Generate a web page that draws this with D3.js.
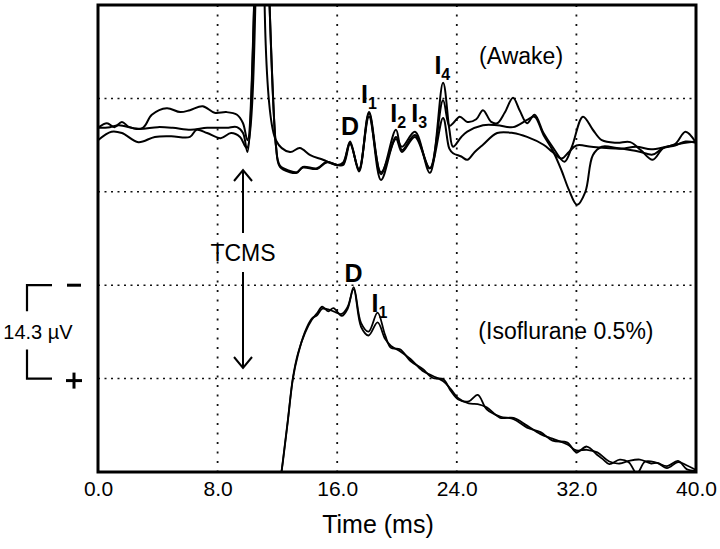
<!DOCTYPE html>
<html><head><meta charset="utf-8">
<script src="https://cdn.jsdelivr.net/npm/d3@7"></script>
<style>
body{margin:0;background:#fff}
text{font-family:"Liberation Sans",Arial,Helvetica,sans-serif;fill:#000}
</style>
</head><body>
<svg id="c" width="720" height="549"></svg>
<script>
// ---- data (time in ms, potential in µV on the display scale; 1 division = 14.3 µV) ----
const xTicks = [0, 8, 16, 24, 32, 40];
const xTickLabels = ["0.0", "8.0", "16.0", "24.0", "32.0", "40.0"];
const yGrid = [14.3, 28.6, 42.9, 57.2];

const awake1 = [[0,52.7],[0.6,53.4],[1.1,52.8],[1.6,53.6],[2.1,52.8],[3.0,52.7],[3.6,54.7],[4.6,55.7],[5.5,55.1],[6.15,55.4],[7.0,56.0],[7.8,55.0],[8.6,55.1],[9.3,54.7],[9.7,53.4],[10.0,50.8],[10.9,100],[11.9,50.8],[12.84,49.0],[13.5,49.6],[14.2,48.5],[15.05,47.8],[16.0,47.0],
  [16.4,47.4],[16.86,50.4],[17.46,46.2],[18.13,55.1],[18.93,45.6],[19.93,52.4],[20.33,49.3],[21.2,51.6],[22.2,46.5],[23.08,56.9],[23.5,53.0],
  [23.75,53.4],[24.2,54.4],[24.7,53.6],[25.3,54.0],[25.75,55.4],[26.3,53.6],[26.7,53.4],[27.2,55.0],[27.76,57.3],[28.2,55.4],[28.7,53.4],[29.2,54.7],[29.8,51.9],[30.4,49.8],[31.2,47.5],[31.7,49.8],[32.44,54.4],[33.1,52.4],[33.7,50.8],[34.7,50.4],[35.6,50.5],[36.3,49.3],[37.1,47.8],[37.8,49.6],[38.6,50.2],[39.3,52.1],[40,50.4]];
const awake2 = [[0,52.7],[0.8,52.8],[1.4,53.1],[2.7,52.5],[4.0,52.8],[5.0,52.7],[6.2,52.4],[7.3,52.7],[8.6,52.7],[9.3,52.8],[9.7,51.9],[10.0,49.0],[10.9,100],[11.9,50.0],[12.17,46.7],[12.84,45.9],[13.3,45.8],[13.7,46.7],[14.65,46.5],[15.3,47.5],[16.0,47.0],
  [16.4,47.2],[16.86,50.6],[17.46,46.0],[18.13,54.9],[18.93,44.7],[19.93,51.3],[20.33,49.8],[21.2,52.1],[22.2,45.8],[23.08,59.6],[23.5,52.5],
  [23.75,49.8],[24.3,51.3],[24.7,52.1],[25.75,53.1],[26.7,53.1],[27.76,52.8],[28.7,53.9],[29.2,54.4],[29.8,51.6],[30.4,49.3],[31.0,46.2],[31.5,43.2],[32.04,40.9],[32.6,42.9],[33.1,48.5],[33.7,49.8],[34.7,49.6],[35.6,49.3],[36.3,49.0],[37.1,48.6],[37.8,49.6],[38.6,50.0],[39.3,50.6],[40,50.4]];
const awake3 = [[0,50.8],[0.9,52.1],[1.6,51.9],[2.7,50.5],[3.8,51.3],[4.9,51.4],[6.15,51.3],[6.6,52.4],[7.3,51.9],[8.2,51.1],[8.9,51.9],[9.5,51.3],[9.95,49.6],[10.9,100],[11.9,50.0],[12.17,46.9],[12.84,46.1],[13.3,45.9],[13.7,46.6],[14.65,46.4],[15.3,47.4],[16.0,47.0],
  [16.4,47.0],[16.86,50.2],[17.46,46.4],[18.13,54.4],[18.93,45.9],[19.93,51.0],[20.33,49.0],[21.2,51.3],[22.2,46.5],[23.08,54.2],[23.5,49.5],
  [23.75,48.8],[24.3,48.3],[24.7,47.8],[25.2,49.0],[25.75,50.1],[26.7,51.9],[27.76,51.9],[28.7,51.3],[29.8,50.1],[30.4,49.0],[31.0,48.0],[31.5,49.0],[32.0,50.0],[33.0,49.8],[34.0,49.6],[35.0,49.5],[36.0,49.8],[37.0,49.4],[38.0,49.8],[39.0,50.3],[40,50.6]];

const iso1 = [[12.1,-3],[12.37,1.8],[12.7,8.0],[13.04,14.5],[13.38,18.2],[13.85,21.3],[14.3,23.3],[14.65,24.3],[15.0,25.3],[15.4,24.6],[15.75,25.1],[16.3,23.9],[16.7,25.0],[17.1,28.3],[17.6,22.8],[18.1,21.5],[18.7,24.4],[19.2,21.0],[19.6,19.0],[20.2,18.8],[20.9,17.0],[21.7,15.8],[22.4,14.4],[23.1,14.2],[23.6,12.4],[24.1,11.1],[24.8,10.8],[25.4,11.8],[26.0,9.6],[26.9,8.5],[27.8,8.1],[28.7,6.8],[29.6,6.1],[30.4,4.8],[31.4,4.5],[32.0,3.0],[32.7,3.9],[33.4,2.6],[33.8,1.9],[34.2,1.2],[34.9,1.9],[35.5,1.5],[36.05,-0.2],[36.6,1.6],[37.4,1.4],[38.06,0.9],[38.8,1.7],[39.4,0.4],[40,0.2]];
const iso2 = [[12.1,-3],[12.37,1.6],[12.7,7.8],[13.04,14.3],[13.38,18.0],[13.85,21.5],[14.3,23.5],[14.65,24.0],[15.0,25.0],[15.4,24.9],[15.75,24.6],[16.3,24.2],[16.7,25.3],[17.1,28.0],[17.6,22.2],[18.1,20.9],[18.7,22.9],[19.2,20.4],[19.6,19.3],[20.2,18.5],[20.9,17.3],[21.7,15.5],[22.4,14.7],[23.1,13.9],[23.6,12.7],[24.1,11.3],[24.8,10.5],[25.4,10.4],[26.0,9.9],[26.9,8.3],[27.8,8.3],[28.7,7.1],[29.6,5.8],[30.4,5.1],[31.4,4.2],[32.0,3.3],[32.7,3.4],[33.4,3.0],[34.2,1.6],[34.9,1.3],[35.5,1.7],[36.25,1.9],[37.0,1.3],[37.4,1.4],[38.06,0.6],[38.8,1.5],[39.4,1.0],[40,0.3]];

const awakeTraces = [awake1, awake2, awake3];
const isoTraces = [iso1, iso2];

// ---- drawing ----
const svg = d3.select("#c");
const x = d3.scaleLinear().domain([0, 40]).range([98, 696]);
const y = d3.scaleLinear().domain([0, 71.5]).range([472, 5]);

svg.append("defs").append("clipPath").attr("id", "clip")
  .append("rect").attr("x", x(0)).attr("y", y(71.5)).attr("width", x(40) - x(0)).attr("height", y(0) - y(71.5));

// grid
svg.append("g").selectAll("line").data(yGrid).join("line")
  .attr("x1", x(0)).attr("x2", x(40)).attr("y1", d => y(d)).attr("y2", d => y(d))
  .attr("stroke", "#111").attr("stroke-width", 1.5).attr("stroke-dasharray", "2,4.5");
svg.append("g").selectAll("line").data(xTicks.slice(1, -1)).join("line")
  .attr("x1", d => x(d)).attr("x2", d => x(d)).attr("y1", y(71.5)).attr("y2", y(0))
  .attr("stroke", "#111").attr("stroke-width", 1.8).attr("stroke-dasharray", "2,7.5");

// traces
const line = d3.line().x(d => x(d[0])).y(d => y(d[1])).curve(d3.curveCatmullRom.alpha(0.5));
const tg = svg.append("g").attr("clip-path", "url(#clip)");
tg.selectAll("path.aw").data(awakeTraces).join("path").attr("class", "aw")
  .attr("d", line).attr("fill", "none").attr("stroke", "#000").attr("stroke-width", 2);
tg.selectAll("path.iso").data(isoTraces).join("path").attr("class", "iso")
  .attr("d", line).attr("fill", "none").attr("stroke", "#000").attr("stroke-width", 1.8);

// frame
svg.append("rect").attr("x", x(0)).attr("y", y(71.5)).attr("width", x(40) - x(0)).attr("height", y(0) - y(71.5))
  .attr("fill", "none").attr("stroke", "#000").attr("stroke-width", 3);

// x axis labels
const ax = svg.append("g").attr("transform", `translate(0,${y(0)})`)
  .call(d3.axisBottom(x).tickValues(xTicks).tickFormat((d, i) => xTickLabels[i]).tickSize(0).tickPadding(9));
ax.select(".domain").remove();
ax.selectAll("text").attr("font-size", 21).attr("font-family", '"Liberation Sans",Arial,sans-serif').attr("fill", "#000");

svg.append("text").attr("x", 378).attr("y", 533).attr("text-anchor", "middle")
  .attr("font-size", 25).text("Time (ms)");

// condition labels
svg.append("text").attr("x", x(28.3)).attr("y", 64).attr("text-anchor", "middle").attr("font-size", 23).text("(Awake)");
svg.append("text").attr("x", x(31.3)).attr("y", 339).attr("text-anchor", "middle").attr("font-size", 23).text("(Isoflurane 0.5%)");

// wave labels
function waveLabel(cx, by, main, sub) {
  const t = svg.append("text").attr("x", cx).attr("y", by).attr("font-size", 25).attr("font-weight", "bold").attr("text-anchor", sub ? "start" : "middle");
  t.append("tspan").text(main);
  if (sub) t.append("tspan").attr("font-size", 16).attr("dy", 6).text(sub);
}
waveLabel(x(16.85), 135, "D");
waveLabel(x(17.6), 103, "I", "1");
waveLabel(x(19.55), 122, "I", "2");
waveLabel(x(20.95), 122, "I", "3");
waveLabel(x(22.5), 74, "I", "4");
waveLabel(x(17.1), 282, "D");
waveLabel(x(18.3), 312, "I", "1");

// TCMS arrow
const ta = x(9.7);
const ag = svg.append("g").attr("stroke", "#000").attr("stroke-width", 2).attr("fill", "none");
ag.append("line").attr("x1", ta).attr("x2", ta).attr("y1", 171).attr("y2", 233);
ag.append("path").attr("d", `M${ta - 9},${181} L${ta},${170} L${ta + 9},${181}`);
ag.append("line").attr("x1", ta).attr("x2", ta).attr("y1", 272).attr("y2", 367);
ag.append("path").attr("d", `M${ta - 9},${357} L${ta},${368} L${ta + 9},${357}`);
svg.append("text").attr("x", ta).attr("y", 261).attr("text-anchor", "middle").attr("font-size", 23).text("TCMS");

// scale bar 14.3 µV
const sTop = y(28.6), sBot = y(14.3);
const sb = svg.append("g").attr("stroke", "#000").attr("stroke-width", 2.2).attr("fill", "none");
sb.append("path").attr("d", `M52,${sTop} L27,${sTop} L27,${sTop + 26}`);
sb.append("path").attr("d", `M27,${sBot - 29} L27,${sBot} L52,${sBot}`);
sb.append("line").attr("x1", 67).attr("x2", 81).attr("y1", sTop).attr("y2", sTop).attr("stroke-width", 3);
sb.append("line").attr("x1", 66).attr("x2", 82).attr("y1", sBot + 2).attr("y2", sBot + 2).attr("stroke-width", 3);
sb.append("line").attr("x1", 74).attr("x2", 74).attr("y1", sBot - 6).attr("y2", sBot + 10).attr("stroke-width", 3);
svg.append("text").attr("x", 38).attr("y", 339).attr("text-anchor", "middle").attr("font-size", 20).text("14.3 µV");
</script>
</body></html>
